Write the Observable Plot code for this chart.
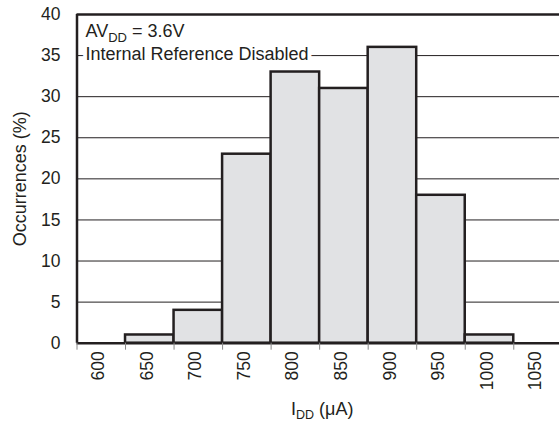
<!DOCTYPE html>
<html><head><meta charset="utf-8">
<script src="https://cdn.jsdelivr.net/npm/d3@7"></script>
<script src="https://cdn.jsdelivr.net/npm/@observablehq/plot@0.6"></script>
<style>
html,body{margin:0;padding:0;background:#fff;}
</style></head><body><div id="chart"></div>
<script>
// Bin edges (µA) and occurrences (%) per bin
const binEdges = [625, 675, 725, 775, 825, 875, 925, 975, 1025];
const occurrences = [1, 4, 23, 33, 31, 36, 18, 1];
// Tick labels (bin centres) and tick marks (bin edges)
const xTickLabels = [600, 650, 700, 750, 800, 850, 900, 950, 1000, 1050];
const xTickMarks = [575, 625, 675, 725, 775, 825, 875, 925, 975, 1025, 1075];
const yTicks = [0, 5, 10, 15, 20, 25, 30, 35, 40];
const gridValues = [5, 10, 15, 20, 25, 30, 35];
// Texts
const noteLine1 = ["AV", "DD", " = 3.6V"];
const noteLine2 = "Internal Reference Disabled";
const xLabel = ["I", "DD", " (μA)"];
const yLabel = "Occurrences (%)";

const ink = "#231f20";
const bars = occurrences.map((v, i) => ({x1: binEdges[i], x2: binEdges[i + 1], y: v}));

const chart = Plot.plot({
  width: 559, height: 421,
  marginLeft: 76.5, marginRight: 0, marginTop: 14, marginBottom: 78.3,
  style: {fontFamily: "'Liberation Sans', Arial, Helvetica, sans-serif", fontSize: "17.5px", color: ink, background: "#fff"},
  x: {domain: [575, 1075], range: [76.5, 561.8]},
  y: {domain: [0, 40]},
  marks: [
    Plot.ruleY(gridValues, {stroke: ink, strokeWidth: 1}),
    Plot.text([noteLine1.join("")], {frameAnchor: "top-left", dx: 8.5, dy: 22.7, lineAnchor: "bottom", textAnchor: "start",
      fill: ink, stroke: "white", strokeWidth: 8, paintOrder: "stroke", fontSize: 18}),
    Plot.text([noteLine2], {frameAnchor: "top-left", dx: 8.5, dy: 45, lineAnchor: "bottom", textAnchor: "start",
      fill: ink, stroke: "white", strokeWidth: 8, paintOrder: "stroke", fontSize: 18}),
    Plot.rectY(bars, {x1: "x1", x2: "x2", y: "y", fill: "#e1e2e4", stroke: ink, strokeWidth: 2.5}),
    Plot.ruleY([0, 40], {stroke: ink, strokeWidth: 2.5}),
    Plot.ruleX([575], {stroke: ink, strokeWidth: 2.5}),
    Plot.axisX({ticks: xTickMarks, tickSize: 7, tickFormat: () => "", label: null, stroke: "#888", strokeWidth: 1}),
    Plot.text(xTickLabels, {x: d => d, text: d => String(d), frameAnchor: "bottom", dy: 8, dx: -2.5, rotate: -90, textAnchor: "end", lineAnchor: "middle", fill: ink, fontSize: 17.5}),
    Plot.axisY({ticks: yTicks, tickSize: 0, tickPadding: 16.5, label: null, fontSize: 17.5}),
    Plot.text([yLabel], {frameAnchor: "left", dx: -56.5, rotate: -90, textAnchor: "middle", lineAnchor: "middle", fill: ink, fontSize: 18}),
    Plot.text([xLabel.join("")], {frameAnchor: "bottom", dx: 4, dy: 72, textAnchor: "middle", lineAnchor: "bottom", fill: ink, fontSize: 18})
  ]
});

function subscriptify(svg, parts, subSize, shift) {
  const full = parts.join("");
  const ns = "http://www.w3.org/2000/svg";
  svg.querySelectorAll("text").forEach(t => {
    if (t.textContent === full) {
      t.textContent = "";
      const a = document.createElementNS(ns, "tspan"); a.textContent = parts[0];
      const b = document.createElementNS(ns, "tspan"); b.textContent = parts[1];
      b.setAttribute("font-size", subSize); b.setAttribute("dy", shift);
      const c = document.createElementNS(ns, "tspan"); c.textContent = parts[2];
      c.setAttribute("dy", -shift);
      t.append(a, b, c);
    }
  });
}
subscriptify(chart, noteLine1, 13, 4.5);
subscriptify(chart, xLabel, 12.5, 4);

document.getElementById("chart").appendChild(chart);
</script>
</body></html>
